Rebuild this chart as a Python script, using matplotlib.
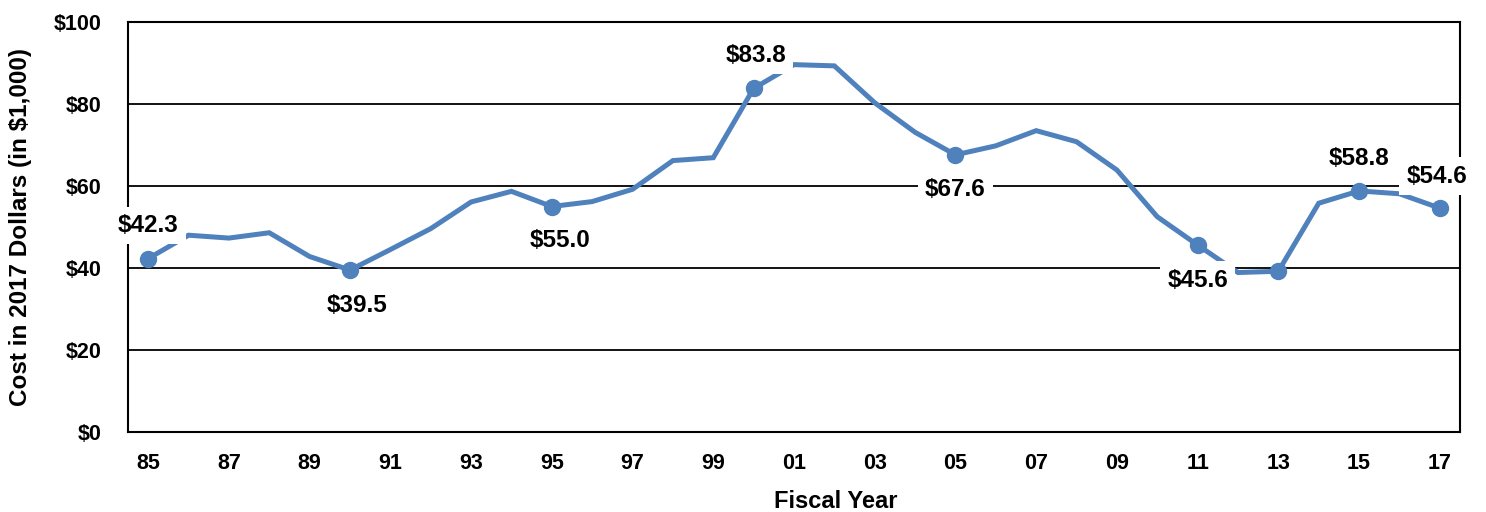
import matplotlib
matplotlib.use("Agg")
import matplotlib.pyplot as plt

years = list(range(1985, 2018))
values = [42.3, 48.0, 47.3, 48.6, 42.8, 39.5, 44.5, 49.6, 56.1, 58.7, 55.0,
          56.2, 59.2, 66.2, 66.9, 83.8, 89.6, 89.3, 80.3, 73.1, 67.6, 69.8,
          73.5, 70.8, 63.9, 52.5, 45.6, 38.9, 39.2, 55.8, 58.8, 58.1, 54.6]
marker_years = [1985, 1990, 1995, 2000, 2005, 2011, 2013, 2015, 2017]
label_years = [1985, 1990, 1995, 2000, 2005, 2011, 2015, 2017]
label_offsets = {1985: (0, 33), 1990: (7, -35), 1995: (8, -34), 2000: (2, 33),
                 2005: (0, -35), 2011: (0, -35), 2015: (0, 32), 2017: (-3, 32)}
xtick_years = list(range(1985, 2018, 2))
xtick_labels = [f"{y % 100:02d}" for y in xtick_years]
yticks = [0, 20, 40, 60, 80, 100]
ytick_labels = [f"${v}" for v in yticks]

plt.rcParams['font.family'] = ['Liberation Sans', 'DejaVu Sans']
plt.rcParams['font.weight'] = 'bold'

fig = plt.figure(figsize=(14.86, 5.12), dpi=100)
ax = fig.add_axes([128/1486, 80/512, (1460-128)/1486, (432-22)/512])

color = '#4F81BD'
ax.plot(years, values, color=color, lw=3.6, zorder=3, solid_joinstyle='miter')
mv = [values[years.index(y)] for y in marker_years]
ax.plot(marker_years, mv, 'o', color=color, ms=11.5, zorder=4)

for y in label_years:
    v = values[years.index(y)]
    ax.annotate(f"${v:.1f}", (y, v), xytext=label_offsets[y], textcoords='offset pixels',
                ha='center', va='center', fontsize=17.5, fontweight='bold', zorder=5,
                annotation_clip=False,
                bbox=dict(boxstyle='square,pad=0.3', fc='white', ec='none'))

ax.set_xlim(1984.5, 2017.5)
ax.set_ylim(0, 100)
ax.set_xticks(xtick_years)
ax.set_xticklabels(xtick_labels, fontsize=15.5, fontweight='bold')
ax.set_yticks(yticks)
ax.set_yticklabels(ytick_labels, fontsize=15.5, fontweight='bold')
ax.tick_params(axis='x', length=0, pad=15)
ax.tick_params(axis='y', length=0, pad=19)
ax.grid(axis='y', color='black', lw=1.3, zorder=1)
for s in ax.spines.values():
    s.set_color('black')
    s.set_linewidth(1.5)
ax.set_xlabel('Fiscal Year', fontsize=17, fontweight='bold')
ax.set_ylabel('Cost in 2017 Dollars (in $1,000)', fontsize=17.5, fontweight='bold')
ax.xaxis.set_label_coords((836-128)/1332, (432-490)/410)
ax.yaxis.set_label_coords((32-128)/1332, 0.5)

fig.savefig('out.png', dpi=100)
